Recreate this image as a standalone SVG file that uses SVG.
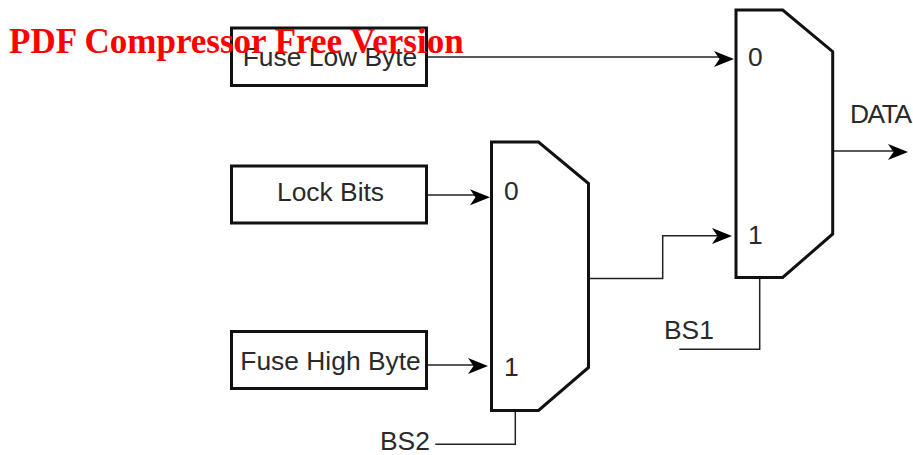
<svg xmlns="http://www.w3.org/2000/svg" width="913" height="455" viewBox="0 0 913 455">
<style>
.box{fill:#fff;stroke:#111;stroke-width:3}
.mux{fill:#fff;stroke:#111;stroke-width:3;stroke-linejoin:miter}
.wire{fill:none;stroke:#222;stroke-width:1.5}
.t{font-family:"Liberation Sans",Arial,sans-serif;font-size:26.400px;fill:#2a2a2a}
.wm{font-family:"Liberation Serif","Times New Roman",serif;font-size:35px;font-weight:bold;fill:#f00}
</style>
<defs><path id="ah" d="M0 0L-20 -8L-14.500 0L-20 8Z" fill="#000"/></defs>
<rect width="913" height="455" fill="#fff"/>
<g id="connectors">
<path class="wire" d="M427 57H720"/>
<path class="wire" d="M427 195H476"/>
<path class="wire" d="M427 365H474"/>
<path class="wire" d="M589 278.500H662.700V235.700H718"/>
<path class="wire" d="M833 151H893"/>
<path class="wire" d="M759.700 278V349.300H679.300"/>
<path class="wire" d="M515.300 411V444.300H435.300"/>
<use href="#ah" x="734" y="59"/>
<use href="#ah" x="490" y="197.300"/>
<use href="#ah" x="488" y="366"/>
<use href="#ah" x="732" y="236"/>
<use href="#ah" x="908" y="152"/>
</g>
<g id="fuse-low"><rect class="box" x="231.500" y="28" width="195" height="57.500"/><text class="t" x="330" y="66" text-anchor="middle">Fuse Low Byte</text></g>
<g id="lock-bits"><rect class="box" x="231.500" y="166" width="195" height="57"/><text class="t" x="330.500" y="201" text-anchor="middle">Lock Bits</text></g>
<g id="fuse-high"><rect class="box" x="231.500" y="331.500" width="195" height="57"/><text class="t" x="330.500" y="370" text-anchor="middle">Fuse High Byte</text></g>
<g id="mux-bs2"><path class="mux" d="M491.500 142H538.500L588.500 183.500V367.500L538.500 410.500H491.500Z"/><text class="t" x="504" y="200">0</text><text class="t" x="504" y="376">1</text></g>
<g id="mux-bs1"><path class="mux" d="M736 10H782.700L832.700 51.700V234L782.700 277.500H736Z"/><text class="t" x="748" y="66">0</text><text class="t" x="748" y="244">1</text></g>
<g id="label-data"><text class="t" x="850" y="123" textLength="62" lengthAdjust="spacing">DATA</text></g>
<g id="label-bs1"><text class="t" x="664" y="339">BS1</text></g>
<g id="label-bs2"><text class="t" x="380" y="450">BS2</text></g>
<text class="wm" x="9" y="53">PDF Compressor Free Version</text>
</svg>
